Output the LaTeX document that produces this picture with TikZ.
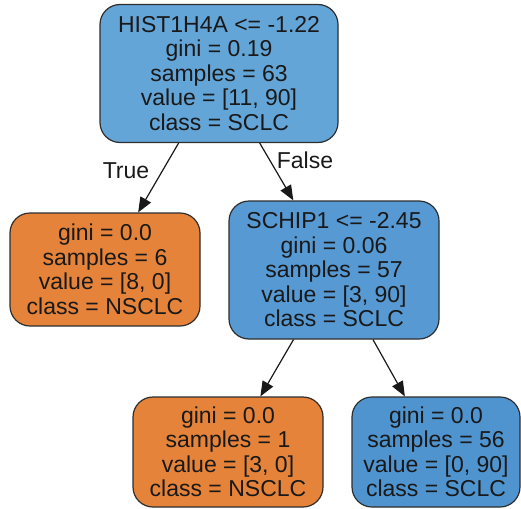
\documentclass[tikz,border=0pt]{standalone}
\usepackage{fontspec}
\setmainfont{Liberation Sans}
\usetikzlibrary{arrows.meta}
\definecolor{rootblue}{HTML}{64A5D8}
\definecolor{midblue}{HTML}{5699D3}
\definecolor{leafblue}{HTML}{4F94CF}
\definecolor{leaforange}{HTML}{E5833A}
\definecolor{edgegray}{HTML}{2E2E2E}
\tikzset{
  treebox/.style={draw=edgegray, line width=1.2pt, rounded corners=20pt, align=center,
    font=\fontsize{23}{24.5}\selectfont, text=black!90, inner sep=0pt},
  treeedge/.style={draw=black!90, line width=1.2pt, -{Triangle[length=15pt,width=12pt]}},
  edgelabel/.style={font=\fontsize{23}{24.5}\selectfont, text=black!90}
}
\begin{document}
\begin{tikzpicture}[x=1pt,y=-1pt]
\useasboundingbox (0,0) rectangle (521,508);
\node[treebox, fill=rootblue, minimum width=238pt, minimum height=138pt] (root) at (219,73.5)
  {HIST1H4A <= -1.22\\gini = 0.19\\samples = 63\\value = [11, 90]\\class = SCLC};
\node[treebox, fill=leaforange, minimum width=190pt, minimum height=113pt] (l1) at (105,269.5)
  {gini = 0.0\\samples = 6\\value = [8, 0]\\class = NSCLC};
\node[treebox, fill=midblue, minimum width=210pt, minimum height=138pt] (r1) at (334,270)
  {SCHIP1 <= -2.45\\gini = 0.06\\samples = 57\\value = [3, 90]\\class = SCLC};
\node[treebox, fill=leaforange, minimum width=190pt, minimum height=110pt] (l2) at (228,452)
  {gini = 0.0\\samples = 1\\value = [3, 0]\\class = NSCLC};
\node[treebox, fill=leafblue, minimum width=168pt, minimum height=110pt] (r2) at (436,452)
  {gini = 0.0\\samples = 56\\value = [0, 90]\\class = SCLC};
\draw[treeedge] (root) -- (l1);
\draw[treeedge] (root) -- (r1);
\draw[treeedge] (r1) -- (l2);
\draw[treeedge] (r1) -- (r2);
\node[edgelabel] (tlabel) at (126,171) {True};
\node[edgelabel] (flabel) at (305,160) {False};
\end{tikzpicture}
\end{document}
